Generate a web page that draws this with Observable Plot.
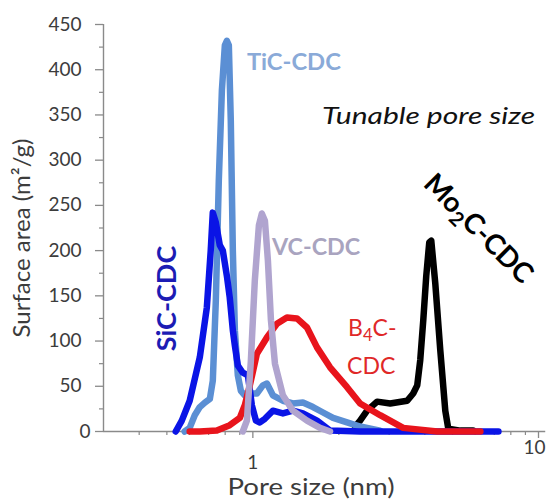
<!DOCTYPE html>
<html>
<head>
<meta charset="utf-8">
<script src="https://cdn.jsdelivr.net/npm/d3@7"></script>
<script src="https://cdn.jsdelivr.net/npm/@observablehq/plot@0.6"></script>
<style>
  html, body { margin: 0; padding: 0; background: #ffffff; }
  #chart { width: 547px; height: 499px; }
</style>
</head>
<body>
<div id="chart"></div>
<script>
// ---- Data (pore size in nm, surface area in m2/g) ----
const ticX = [0.577, 0.601, 0.626, 0.652, 0.679, 0.707, 0.724, 0.742, 0.760, 0.779, 0.798, 0.811, 0.824, 0.837, 0.851, 0.865, 0.886, 0.908, 0.937, 0.976, 1.033, 1.084, 1.120, 1.175, 1.274, 1.381, 1.497, 1.624, 1.761, 1.909, 2.137, 2.374, 2.79];
const ticY = [0, 4, 18, 27, 32, 36, 56, 145, 278, 377, 427, 432, 427, 344, 200, 112, 62, 45, 40, 42, 42, 51, 53, 40, 34, 31, 32, 27, 21, 15, 10, 5.5, 1];

const sicX = [0.537, 0.564, 0.601, 0.652, 0.690, 0.712, 0.724, 0.742, 0.766, 0.785, 0.811, 0.830, 0.851, 0.865, 0.886, 0.922, 0.961, 0.992, 1.025, 1.058, 1.102, 1.175, 1.274, 1.381, 1.497, 1.677, 1.863, 2.374, 7.24];
const sicY = [0, 12, 34, 82, 137, 200, 242, 231, 206, 200, 172, 148, 112, 95, 73, 65, 62, 29, 12, 10, 14, 23, 20, 23, 20, 12, 1, 0, 0];

const vcX = [0.922, 0.953, 0.984, 1.016, 1.050, 1.075, 1.102, 1.129, 1.157, 1.195, 1.274, 1.381, 1.547, 1.718, 1.863];
const vcY = [0, 12, 78, 167, 228, 241, 233, 189, 123, 75, 40, 23, 12, 4, 0];

const b4cX = [0.601, 0.652, 0.748, 0.830, 0.900, 0.937, 0.976, 1.033, 1.120, 1.214, 1.316, 1.427, 1.547, 1.677, 1.863, 2.137, 2.374, 2.79, 3.36, 4.42, 6.26];
const b4cY = [0, 0, 1, 7, 15, 29, 51, 86, 104, 119, 126, 125, 115, 93, 71, 49, 31, 18, 4, 0, 0];

const mo2cX = [2.280, 2.374, 2.512, 2.723, 3.025, 3.47, 3.642, 3.762, 3.855, 3.950, 4.046, 4.145, 4.213, 4.351, 4.53, 4.717, 4.833, 5.325, 5.9];
const mo2cY = [5.5, 12, 23, 33, 31, 34, 42, 51, 79, 123, 172, 209, 211, 164, 90, 23, 3, 1, 1];

const seriesNames = ["Mo2C-CDC", "TiC-CDC", "SiC-CDC", "B4C-CDC", "VC-CDC"];
const seriesColors = ["#000000", "#5b8fd4", "#0a14e6", "#e8141c", "#b0a4cf"];

const yTicks = [0, 50, 100, 150, 200, 250, 300, 350, 400, 450];
const yLabelTicks = [50, 100, 150, 200, 250, 300, 350, 400, 450];
const yMinorTicks = [25, 75, 125, 175, 225, 275, 325, 375, 425];
const xMajorTicks = [1, 10];
const xMinorTicks = [0.4, 0.5, 0.6, 0.7, 0.8, 0.9, 2, 3, 4, 5, 6, 7, 8, 9];

// ---- Build table ----
const seriesXs = [mo2cX, ticX, sicX, b4cX, vcX];
const seriesYs = [mo2cY, ticY, sicY, b4cY, vcY];
const rows = seriesNames.flatMap((name, i) =>
  seriesXs[i].map((x, j) => ({series: name, x, y: seriesYs[i][j]}))
);

const axisGray = "#8a8a8a";
const textGray = "#3c3c3c";
const font = "Lato, 'Open Sans', sans-serif";

const chart = Plot.plot({
  width: 547,
  height: 499,
  marginLeft: 103,
  marginRight: 9,
  marginTop: 24,
  marginBottom: 68,
  style: {fontFamily: font, background: "#ffffff"},
  x: {type: "log", domain: [0.3, 10], axis: null},
  y: {domain: [0, 450], axis: null},
  color: {domain: seriesNames, range: seriesColors},
  marks: [
    // axis lines
    Plot.ruleX([0.3], {stroke: axisGray, strokeWidth: 1.4}),
    Plot.ruleY([0], {x1: 0.3, x2: 10.6, stroke: axisGray, strokeWidth: 1.4}),
    // y ticks + labels
    Plot.axisY({ticks: yTicks, tickSize: 8, text: null, label: null, stroke: axisGray, strokeWidth: 1.3}),
    Plot.axisY({ticks: yMinorTicks, tickSize: 4, text: null, label: null, stroke: axisGray, strokeWidth: 1.2}),
    Plot.axisY({ticks: yLabelTicks, tickSize: 0, tickPadding: 22, label: null, fill: textGray, fontSize: 19, tickFormat: d => String(d)}),
    Plot.text(["0"], {x: 0.3, y: 0, dx: -13, textAnchor: "end", fill: textGray, fontSize: 19}),
    // x ticks + labels
    Plot.axisX({ticks: xMajorTicks, tickSize: 7, text: null, label: null, stroke: axisGray, strokeWidth: 1.3}),
    Plot.axisX({ticks: xMinorTicks, tickSize: 4, text: null, label: null, stroke: axisGray, strokeWidth: 1.2}),
    Plot.text(["1"], {x: 1, y: 0, dy: 31, textAnchor: "middle", fill: textGray, fontSize: 19}),
    Plot.text(["10"], {x: 10, y: 0, dx: -4, dy: 16, textAnchor: "middle", fill: textGray, fontSize: 19}),
    // axis titles
    Plot.text(["Surface area (m²/g)"], {frameAnchor: "left", textAnchor: "middle", lineAnchor: "middle", rotate: -90, dx: -81, dy: 10, fontSize: 24, fill: textGray}),
    Plot.text(["Pore size (nm)"], {frameAnchor: "bottom", textAnchor: "middle", lineAnchor: "middle", dx: -10, dy: 56, fontSize: 23, fill: textGray}),
    // curves
    Plot.line(rows, {x: "x", y: "y", z: "series", stroke: "series", strokeWidth: 6.5, strokeLinejoin: "round", strokeLinecap: "round"}),
    // annotations
    Plot.text(["TiC-CDC"], {x: 0.953, y: 407, textAnchor: "start", fontSize: 22, fontWeight: "bold", fill: "#8aaad8"}),
    Plot.text(["Tunable pore size"], {x: 1.746, y: 349, textAnchor: "start", fontSize: 24, fontStyle: "italic", fill: "#111111"}),
    Plot.text(["SiC-CDC"], {x: 0.503, y: 147, rotate: -90, fontSize: 27, fontWeight: "bold", fill: "#1c1cb4"}),
    Plot.text(["VC-CDC"], {x: 1.166, y: 203, textAnchor: "start", fontSize: 22, fontWeight: "bold", fill: "#a9a4bf"}),
    Plot.text(["B₄C-"], {x: 2.154, y: 114, textAnchor: "start", fontSize: 23, fill: "#e02828"}),
    Plot.text(["CDC"], {x: 2.137, y: 72, textAnchor: "start", fontSize: 23, fill: "#e02828"}),
    Plot.text(["Mo₂C-CDC"], {x: 6.16, y: 224, rotate: 45, fontSize: 28, fontWeight: "bold", fill: "#000000"})
  ]
});

// Horizontal stretch of some labels, to match the reference's wide lettering
const stretch = {"Tunable pore size": 1.25, "Pore size (nm)": 1.2, "TiC-CDC": 1.08, "VC-CDC": 1.06};
// Real subscripts (lowered, smaller digits) for chemical formulas
const subs = {"B₄C-": ["B", "4", "C-"], "Mo₂C-CDC": ["Mo", "2", "C-CDC"]};
d3.select(chart).selectAll("text").each(function() {
  const content = this.textContent;
  const s = stretch[content];
  if (s) {
    const t = this.getAttribute("transform") || "";
    this.setAttribute("transform", (t + ` scale(${s},1)`).trim());
  }
  const parts = subs[content];
  if (parts) {
    const el = d3.select(this);
    const inner = el.select("tspan").empty() ? el : el.select("tspan");
    inner.text(null);
    inner.append("tspan").text(parts[0]);
    inner.append("tspan").attr("dy", "0.32em").attr("font-size", "0.72em").text(parts[1]);
    inner.append("tspan").attr("dy", "-0.23em").text(parts[2]);
  }
});

document.getElementById("chart").appendChild(chart);
</script>
</body>
</html>
